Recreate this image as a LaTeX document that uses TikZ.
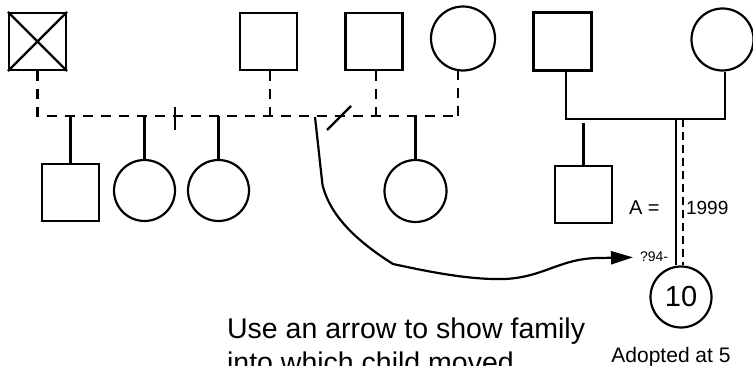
\documentclass[tikz,border=0pt]{standalone}
\usepackage{fontspec}
\setmainfont{Liberation Sans}
\usetikzlibrary{arrows.meta}
\begin{document}
\begin{tikzpicture}[x=1pt,y=-1pt,line width=2.2pt,
  sq/.style={draw,rectangle,minimum size=57pt,inner sep=0pt},
  ci/.style={draw,circle,minimum size=#1,inner sep=0pt},
  dsh/.style={dash pattern=on 10pt off 8pt},
  lbl/.style={inner sep=0pt,anchor=base west}]
\clip (0,0) rectangle (753,366);
% top generation
\node[sq] (gf) at (37.5,41.5) {};
\draw (gf.north west) -- (gf.south east) (gf.north east) -- (gf.south west);
\node[sq] (f2) at (268.5,41.5) {};
\node[sq] (f3) at (374,41.5) {};
\node[ci=64pt] (w) at (463,38.5) {};
\node[sq,minimum size=58pt] (rf) at (562.5,41.5) {};
\node[ci=62pt] (rm) at (722.5,39.5) {};
% dashed partnership line
\coordinate (d0) at (37.5,116);
\coordinate (d1) at (458,116);
\draw[dsh] (gf.south) -- (d0) -- (d1);
\draw[dsh] (f2.south -| 270,0) -- (270,116);
\draw[dsh] (f3.south -| 376,0) -- (376,116);
\draw[dsh] (458,70.5) -- (d1);
% children of left family
\node[sq] (s1) at (70.5,192.5) {};
\node[ci=61pt] (c1) at (144.5,190.5) {};
\node[ci=61pt] (c2) at (218.5,190.5) {};
\node[ci=62pt] (c3) at (415.5,191) {};
\draw (s1.north |- d0) -- (s1.north);
\draw (c1.north |- d0) -- (c1.north);
\draw (c2.north |- d0) -- (c2.north);
\draw (c3.north |- d0) -- (c3.north);
% tick and slash
\coordinate (t1) at (175,107);
\coordinate (t2) at (175,130);
\draw (t1) -- (t2);
\coordinate (sl1) at (327,130);
\coordinate (sl2) at (351,106);
\draw (sl1) -- (sl2);
% right family
\coordinate (m1) at (566,119);
\coordinate (m2) at (725,119);
\draw (m1 |- rf.south) -- (m1) -- (m2) -- (m2 |- rm.south);
\node[sq] (s2) at (583.5,194.5) {};
\draw (583.5,123) -- (s2.north);
% adopted child
\node[ci=61pt,font=\fontsize{29}{29}\selectfont] (ad) at (681,297) {10};
\coordinate (a1) at (676,119);
\coordinate (a2) at (683,119);
\draw (a1) -- (a1 |- ad.north);
\draw[dash pattern=on 8pt off 5pt] (a2) -- (a2 |- ad.north);
% labels
\node[lbl,font=\fontsize{20}{24}\selectfont] (aeq) at (628,215) {A =};
\node[lbl,font=\fontsize{19}{24}\selectfont] (yr) at (685,215) {1999};
\node[lbl,font=\fontsize{14}{16}\selectfont] (q94) at (639,262) {?94-};
\node[inner sep=0pt,anchor=base,font=\fontsize{21}{24}\selectfont] (adl) at (671,362.5) {Adopted at 5};
\node[lbl,font=\fontsize{28.5}{34}\selectfont] (note1) at (226,338) {Use an arrow to show family};
\node[lbl,font=\fontsize{28.5}{34}\selectfont] (note2) at (226,372) {into which child moved};
% arrow
\coordinate (cs) at (315,117);
\draw[-{Triangle[length=22pt,width=13pt]},shorten >=6pt] (cs) -- (322.5,185)
  .. controls (330,215) and (355,240) .. (393,264)
  .. controls (430,272) and (470,280) .. (505,279)
  .. controls (545,277) and (560,258) .. (600,258) -- (q94.west);
\end{tikzpicture}
\end{document}
